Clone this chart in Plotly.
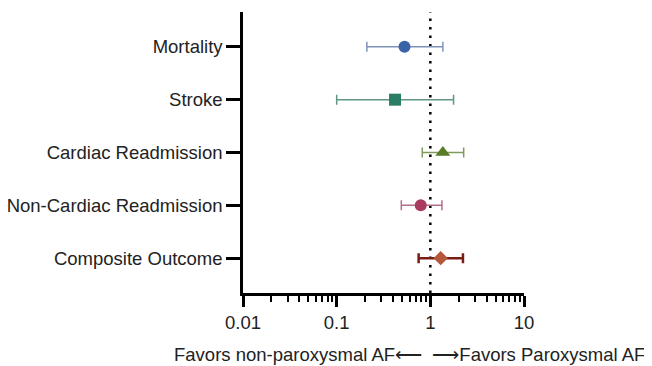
import plotly.graph_objects as go

categories = ["Mortality", "Stroke", "Cardiac Readmission", "Non-Cardiac Readmission", "Composite Outcome"]
estimates = [0.53, 0.42, 1.36, 0.79, 1.29]
lower_ci = [0.21, 0.10, 0.82, 0.49, 0.75]
upper_ci = [1.36, 1.77, 2.27, 1.33, 2.23]
marker_symbols = ["circle", "square", "triangle-up", "circle", "diamond"]
marker_colors = ["#3b63a8", "#2b7e66", "#587b25", "#a93a60", "#b5573a"]
bar_colors = ["#7f93ba", "#5f9684", "#7f9a5d", "#b66d8c", "#7a1c12"]
bar_widths = [1.5, 1.5, 1.5, 1.5, 2.5]
marker_sizes = [12, 12, 13, 12, 11]
x_ticks = [0.01, 0.1, 1, 10]
x_tick_labels = ["0.01", "0.1", "1", "10"]

fig = go.Figure()
for i, c in enumerate(categories):
    fig.add_trace(go.Scatter(
        x=[estimates[i]], y=[i], mode="markers",
        marker=dict(symbol=marker_symbols[i], color=marker_colors[i], size=marker_sizes[i], line=dict(width=0)),
        error_x=dict(type="data", symmetric=False,
                     array=[upper_ci[i] - estimates[i]],
                     arrayminus=[estimates[i] - lower_ci[i]],
                     color=bar_colors[i], thickness=bar_widths[i], width=5),
        showlegend=False, name=c,
    ))

fig.add_shape(type="line", x0=1, x1=1, y0=0, y1=1, xref="x", yref="paper",
              line=dict(color="black", width=2.5, dash="2.5px,6px"), layer="below")

fig.update_layout(
    width=644, height=358,
    margin=dict(l=235, r=128, t=4, b=73),
    paper_bgcolor="white", plot_bgcolor="white",
    font=dict(family="Liberation Sans, Arial, sans-serif", size=18.5, color="#222"),
    xaxis=dict(type="log", range=[-2, 1], tickvals=x_ticks, ticktext=x_tick_labels, automargin=False,
               showgrid=False, zeroline=False, showline=True, linecolor="black", linewidth=2.5,
               ticks="outside", ticklen=11, tickwidth=2.5, tickcolor="black",
               minor=dict(ticks="outside", ticklen=6, tickwidth=2, tickcolor="black", dtick="D1", showgrid=False),
               tickfont=dict(size=18.5, color="#222")),
    yaxis=dict(range=[4.66, -0.66], tickvals=list(range(len(categories))), ticktext=categories, automargin=False,
               showgrid=False, zeroline=False, showline=True, linecolor="black", linewidth=2.5,
               ticks="outside", ticklen=14, tickwidth=2.5, tickcolor="black",
               tickfont=dict(size=18.5, color="#222")),
    annotations=[dict(text="Favors non-paroxysmal AF\u27f5  \u27f6Favors Paroxysmal AF",
                      xref="paper", yref="paper", x=-0.253, y=-0.22, xanchor="left", yanchor="middle",
                      showarrow=False, font=dict(size=18.5, color="#222"))],
)

fig.write_html("out.html")
